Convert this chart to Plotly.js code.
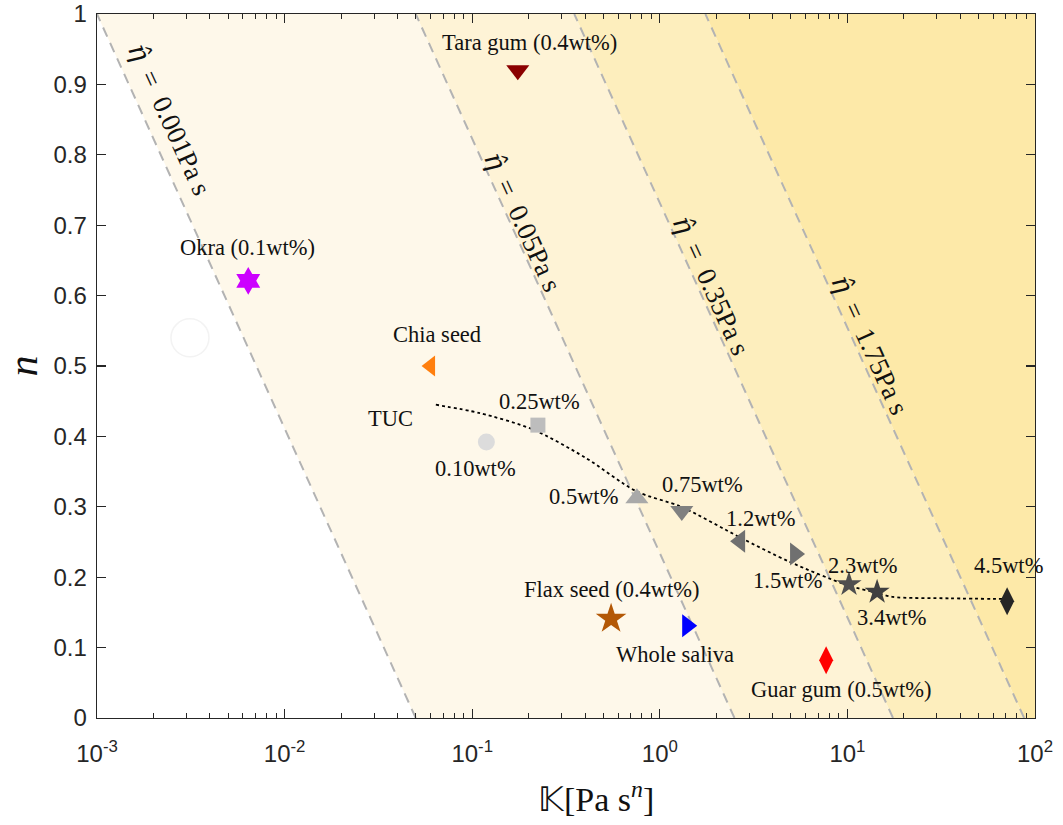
<!DOCTYPE html>
<html>
<head>
<meta charset="utf-8">
<script src="https://cdn.plot.ly/plotly-3.0.1.min.js"></script>
<style>html,body{margin:0;padding:0;background:#fff;}#chart{width:1063px;height:825px;}</style>
</head>
<body>
<div id="chart"></div>
<script>
// ---- data ----
const viscLevels = [0.001, 0.05, 0.35, 1.75];
const viscLabels = ['0.001', '0.05', '0.35', '1.75'];
const shearRate = 50;

const fluidNames = ['Tara gum (0.4wt%)', 'Okra (0.1wt%)', 'Chia seed', 'Flax seed (0.4wt%)', 'Whole saliva', 'Guar gum (0.5wt%)'];
const fluidK = [0.175, 0.0064, 0.060, 0.55, 1.40, 7.7];
const fluidN = [0.920, 0.621, 0.500, 0.141, 0.131, 0.082];

const tucConc = ['0.10wt%', '0.25wt%', '0.5wt%', '0.75wt%', '1.2wt%', '1.5wt%', '2.3wt%', '3.4wt%', '4.5wt%'];
const tucK = [0.119, 0.224, 0.755, 1.31, 2.68, 5.26, 10.2, 14.4, 71];
const tucN = [0.392, 0.416, 0.312, 0.294, 0.251, 0.233, 0.190, 0.179, 0.166];

const fitK = [0.064, 0.11, 0.21, 0.4, 0.75, 1.3, 2.7, 4.9, 9.9, 14.3, 17.5, 35, 72];
const fitN = [0.445, 0.433, 0.41, 0.37, 0.322, 0.300, 0.256, 0.222, 0.189, 0.178, 0.172, 0.170, 0.169];

const ghostK = [0.00313];
const ghostN = [0.54];

const xTickVals = [0.001, 0.01, 0.1, 1, 10, 100];
const xTickText = ['10<sup>-3</sup>', '10<sup>-2</sup>', '10<sup>-1</sup>', '10<sup>0</sup>', '10<sup>1</sup>', '10<sup>2</sup>'];

// ---- styles ----
const regionColors = ['#fef8ea', '#fef3d6', '#fdeebd', '#fde9a8'];
const fluidSymbols = ['triangle-down', 'hexagram', 'triangle-left', 'star', 'triangle-right', 'diamond-tall'];
const fluidColors = ['#8b0000', '#cc00ff', '#ff7f0e', '#b35806', '#0000ff', '#ff0000'];
const fluidSizes = [20, 21, 18, 23, 20, 20];
const tucSymbols = ['circle', 'square', 'triangle-up', 'triangle-down', 'triangle-left', 'triangle-right', 'star', 'star', 'diamond-tall'];
const tucColors = ['#dcdcdc', '#bdbdbd', '#a9a9a9', '#808080', '#707070', '#707070', '#4f4f4f', '#404040', '#262626'];
const tucSizes = [17, 15, 20, 20, 20, 20, 19, 19, 20];

const xMax = 100;
function lineK(eta, n) { return eta * Math.pow(shearRate, 1 - n); }

const traces = [];
for (let i = 0; i < viscLevels.length; i++) {
  const e1 = viscLevels[i];
  let xs, ys;
  if (i < viscLevels.length - 1) {
    const e2 = viscLevels[i + 1];
    xs = [lineK(e1, 0), lineK(e1, 1), lineK(e2, 1), lineK(e2, 0)];
  } else {
    xs = [lineK(e1, 0), lineK(e1, 1), xMax, xMax];
  }
  ys = [0, 1, 1, 0];
  traces.push({x: xs, y: ys, type: 'scatter', mode: 'lines', fill: 'toself',
    fillcolor: regionColors[i], line: {width: 0}, hoverinfo: 'skip', showlegend: false});
}
viscLevels.forEach(e => {
  traces.push({x: [lineK(e, 0), lineK(e, 1)], y: [0, 1], type: 'scatter', mode: 'lines',
    line: {color: '#b3b3b3', width: 2, dash: '10px,7px'}, showlegend: false, hoverinfo: 'skip'});
});
traces.push({x: ghostK, y: ghostN, type: 'scatter', mode: 'markers',
  marker: {symbol: 'circle-open', size: 38, opacity: 1, color: '#f3f3f3', line: {width: 1.5, color: '#f3f3f3'}}, showlegend: false});
traces.push({x: fitK, y: fitN, type: 'scatter', mode: 'lines',
  line: {color: '#000', width: 1.8, dash: 'dot', shape: 'spline', smoothing: 0.8}, showlegend: false});
traces.push({x: tucK, y: tucN, type: 'scatter', mode: 'markers',
  marker: {symbol: tucSymbols, color: tucColors, size: tucSizes, opacity: 1, line: {width: 0}}, showlegend: false});
traces.push({x: fluidK, y: fluidN, type: 'scatter', mode: 'markers',
  marker: {symbol: fluidSymbols, color: fluidColors, size: fluidSizes, opacity: 1, line: {width: 0}}, showlegend: false});

const serif = 'Liberation Serif, Times New Roman, serif';
const lbl = (K, n, text, size) => ({x: Math.log10(K), y: n, xref: 'x', yref: 'y', text: text,
  showarrow: false, font: {family: serif, size: size || 22.5, color: '#111'}, xanchor: 'center', yanchor: 'middle'});

const annotations = [
  lbl(0.203, 0.960, fluidNames[0]),
  lbl(0.00638, 0.668, fluidNames[1]),
  lbl(0.0648, 0.545, fluidNames[2]),
  lbl(0.556, 0.182, fluidNames[3]),
  lbl(1.205, 0.0895, fluidNames[4]),
  lbl(9.35, 0.040, fluidNames[5]),
  lbl(0.0365, 0.426, 'TUC'),
  lbl(0.1035, 0.355, tucConc[0]),
  lbl(0.2296, 0.449, tucConc[1]),
  lbl(0.394, 0.314, tucConc[2]),
  lbl(1.68, 0.332, tucConc[3]),
  lbl(3.46, 0.284, tucConc[4]),
  lbl(4.77, 0.195, tucConc[5]),
  lbl(11.97, 0.216, tucConc[6]),
  lbl(17.1, 0.143, tucConc[7]),
  lbl(71.8, 0.216, tucConc[8])
];
const etaPos = [[0.00245, 0.852], [0.1866, 0.705], [1.897, 0.615], [13.2, 0.530]];
viscLabels.forEach((v, i) => {
  const a = lbl(etaPos[i][0], etaPos[i][1],
    '<span style="font-family:DejaVu Serif;font-style:italic">η̂</span>\u2002=\u2002' + v + 'Pa s', 27);
  a.textangle = 65.6;
  annotations.push(a);
});
annotations.push({x: 0.532, y: -0.112, xref: 'paper', yref: 'paper', showarrow: false,
  text: '𝕂[Pa s<sup><i>n</i></sup>]', font: {family: serif, size: 34, color: '#111'},
  xanchor: 'center', yanchor: 'middle'});

const axisCommon = {
  showline: true, linecolor: '#262626', linewidth: 1.3, mirror: 'ticks',
  ticks: 'inside', ticklen: 9, tickwidth: 1.2, tickcolor: '#262626',
  showgrid: false, zeroline: false,
  tickfont: {family: 'Liberation Sans, Arial, sans-serif', size: 24, color: '#262626'}
};

const layout = {
  width: 1063, height: 825,
  margin: {l: 97, r: 28, t: 14, b: 107},
  paper_bgcolor: '#fff', plot_bgcolor: '#fff',
  showlegend: false,
  xaxis: Object.assign({}, axisCommon, {
    type: 'log', range: [-3, 2], tickvals: xTickVals, ticktext: xTickText,
    ticklabelstandoff: 14,
    minor: {ticks: 'inside', ticklen: 5, tickwidth: 1, tickcolor: '#262626', dtick: 'D1', showgrid: false}
  }),
  yaxis: Object.assign({}, axisCommon, {
    range: [0, 1], dtick: 0.1, tickformat: '.1~f',
    ticklabelstandoff: 4,
    title: {text: '<i>n</i>', font: {family: serif, size: 42, color: '#111'}, standoff: 10}
  }),
  annotations: annotations
};

Plotly.newPlot('chart', traces, layout, {displayModeBar: false, staticPlot: true});
</script>
</body>
</html>
